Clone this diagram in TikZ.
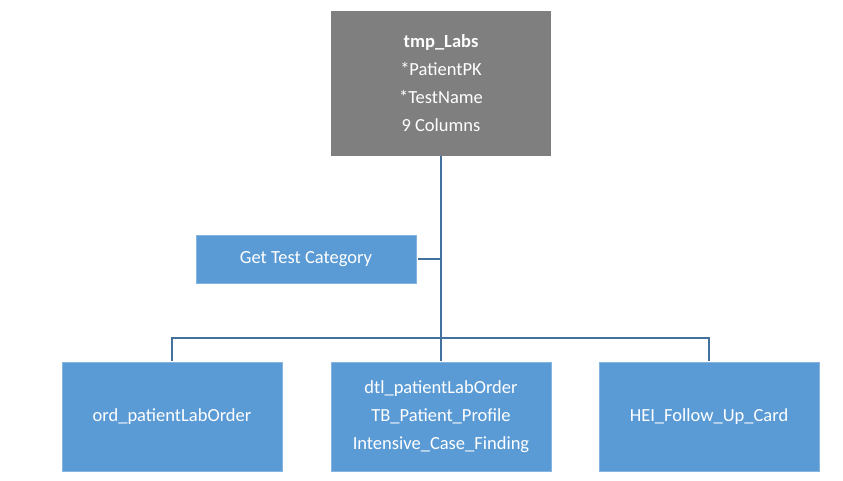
\documentclass[tikz,border=0pt]{standalone}
\usepackage{fontspec}
\setmainfont{Carlito}
\usetikzlibrary{positioning}
\definecolor{tabgray}{RGB}{127,127,127}
\definecolor{stepblue}{RGB}{91,155,213}
\definecolor{linkblue}{RGB}{65,113,156}
\newcommand{\boxwidth}{220pt}

\begin{document}
\begin{tikzpicture}[x=1pt, y=1pt, outer sep = 0pt]
\tikzstyle{table}=[
                  rectangle,
                  fill=tabgray,
                  text=white,
                  align=center,
                  minimum width=\boxwidth,
                  minimum height=145pt,
                  font=\fontsize{18.5}{28}\selectfont]

\tikzstyle{source}=[
                  rectangle,
                  fill=stepblue,
                  draw=stepblue!75!white,
                  line width=0.6pt,
                  text=white,
                  align=center,
                  minimum width=\boxwidth,
                  minimum height=109pt,
                  font=\fontsize{18.5}{28}\selectfont]

\tikzstyle{link}=[draw=linkblue, line width=1.6pt]

\useasboundingbox (0,0) rectangle (843,-480);

\node[table] (tmplabs) at (441,-83.5)
   {\textbf{tmp\_Labs}\\*PatientPK\\*TestName\\9 Columns};

\node[source, minimum height=48pt] (category) at (306,-259) {Get Test Category};

\node[source] (ordlab) at (172,-416.5) {ord\_patientLabOrder};
\node[source] (dtllab) at (441,-416.5)
   {dtl\_patientLabOrder\\TB\_Patient\_Profile\\Intensive\_Case\_Finding};
\node[source] (heicard) at (709,-416.5) {HEI\_Follow\_Up\_Card};

\coordinate (hub) at (441,-338);
\coordinate (tap) at (441,-259);

\draw[link] (tmplabs.south) -- ([yshift=1.5pt]dtllab.north);
\draw[link] ([xshift=2pt]category.east) -- (tap);
\draw[link] ([yshift=1.5pt]ordlab.north) |- (hub) -| ([yshift=1.5pt]heicard.north);

\end{tikzpicture}
\end{document}
